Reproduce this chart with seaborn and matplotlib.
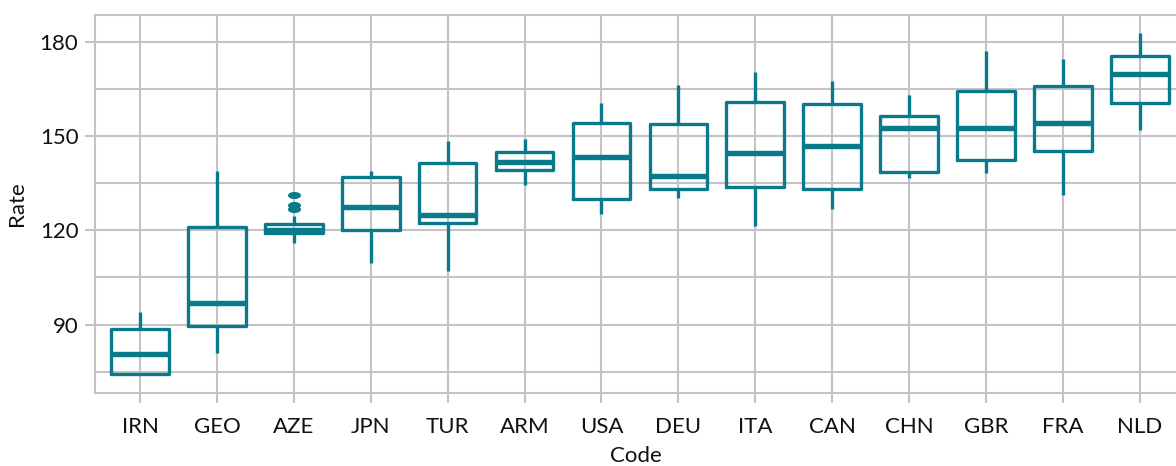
import numpy as np
import pandas as pd
import matplotlib
matplotlib.use("Agg")
import matplotlib.pyplot as plt
from matplotlib.path import Path
from matplotlib.ticker import FixedLocator
import seaborn as sns

# Country codes, ordered by median rate
codes = ["IRN", "GEO", "AZE", "JPN", "TUR", "ARM", "USA",
         "DEU", "ITA", "CAN", "CHN", "GBR", "FRA", "NLD"]

# Observed rates per country
rates = {
    "IRN": [74.4, 74.4, 80.7, 88.7, 94.1],
    "GEO": [81.0, 89.6, 97.0, 121.1, 139.0],
    "AZE": [116.0, 117.3, 118.2, 118.7, 119.1, 119.4, 119.6, 119.8, 120.0,
            120.6, 121.2, 121.7, 122.0, 124.6, 126.7, 128.0, 131.3],
    "JPN": [109.6, 120.2, 127.3, 136.8, 139.0],
    "TUR": [107.0, 122.2, 124.9, 141.5, 148.4],
    "ARM": [134.4, 139.2, 141.7, 145.0, 148.9],
    "USA": [125.2, 130.1, 143.2, 154.0, 160.4],
    "DEU": [130.2, 133.1, 137.3, 153.8, 166.2],
    "ITA": [121.2, 133.9, 144.7, 160.9, 170.5],
    "CAN": [126.9, 133.2, 146.7, 160.1, 167.5],
    "CHN": [136.5, 138.6, 152.4, 156.3, 163.0],
    "GBR": [138.3, 142.4, 152.4, 164.4, 177.2],
    "FRA": [131.2, 145.2, 154.2, 165.9, 174.6],
    "NLD": [151.9, 160.4, 169.8, 175.5, 182.8],
}

df = pd.DataFrame(
    [(c, v) for c in codes for v in rates[c]], columns=["Code", "Rate"]
)

teal = "#087a8b"
grid_grey = "#c4c4c8"
ink = "#111111"
fs = 16

sns.set_theme(style="white")
plt.rcParams["font.family"] = ["Lato", "DejaVu Sans"]

fig = plt.figure(figsize=(11.76, 4.66), dpi=100)
ax = fig.add_axes([95 / 1176, 1 - 393 / 466, 1 - 95 / 1176, (393 - 15) / 466])

# horizontally stretched oval for outliers
t = np.linspace(0, 2 * np.pi, 40)
oval = Path(np.column_stack([np.cos(t), 0.5 * np.sin(t)]), closed=True)

sns.boxplot(
    data=df, x="Code", y="Rate", order=codes, color=teal, fill=False,
    width=0.75, linewidth=2.4, whis=1.5, showcaps=False,
    medianprops=dict(linewidth=3.9, color=teal),
    boxprops=dict(color=teal), whiskerprops=dict(color=teal),
    flierprops=dict(marker=oval, markersize=8.5, markerfacecolor=teal,
                    markeredgecolor=teal, markeredgewidth=0.8),
    ax=ax,
)

ax.set_xlim(-0.585, 13.47)
ax.set_ylim(68.2, 188.5)
ax.set_yticks([90, 120, 150, 180])
ax.yaxis.set_minor_locator(FixedLocator([75, 105, 135, 165]))

ax.set_axisbelow(True)
ax.grid(True, which="major", axis="both", color=grid_grey, linewidth=1.5)
ax.grid(True, which="minor", axis="y", color=grid_grey, linewidth=1.5)

for side in ["left", "top", "bottom"]:
    ax.spines[side].set_color(grid_grey)
    ax.spines[side].set_linewidth(1.5)
ax.spines["right"].set_visible(False)

ax.tick_params(axis="both", which="major", length=7, width=1.5,
               color=grid_grey, labelsize=fs, labelcolor=ink)
ax.tick_params(axis="x", pad=10, bottom=True)
ax.tick_params(axis="y", pad=5, left=True)
ax.tick_params(axis="y", which="minor", length=0)

ax.set_xlabel("Code", fontsize=fs, color=ink, labelpad=7)
ax.set_ylabel("Rate", fontsize=fs, color=ink, labelpad=9)

fig.savefig("out.png", dpi=100)
